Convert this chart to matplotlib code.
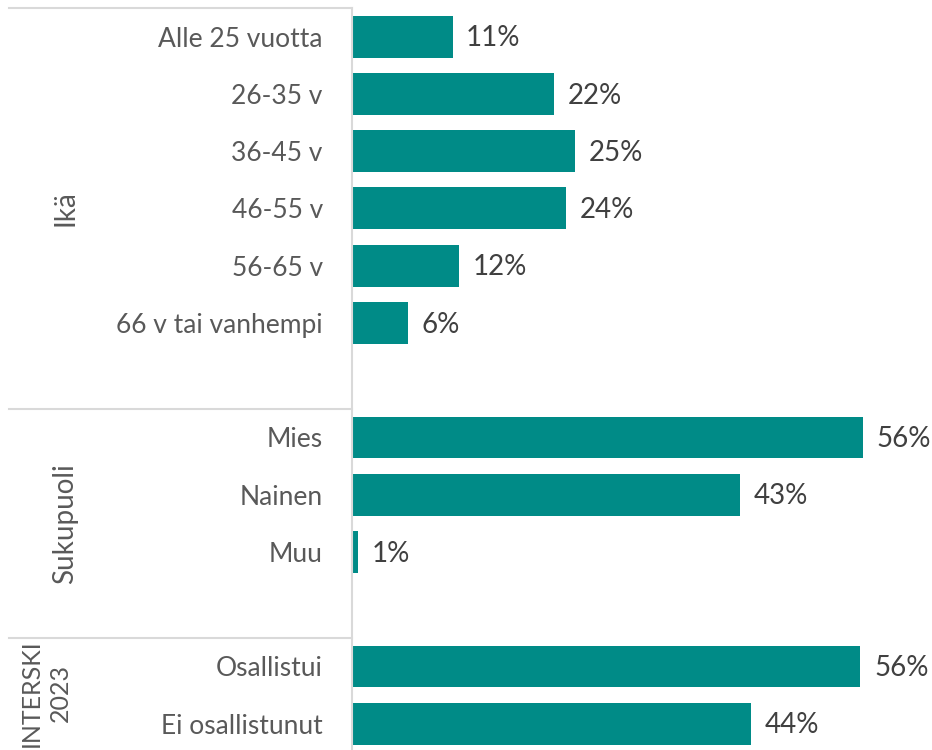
import matplotlib
matplotlib.use("Agg")
import matplotlib.pyplot as plt
from matplotlib.transforms import blended_transform_factory
from matplotlib.lines import Line2D

# ryhmät ja luokat
groups = ["Ikä", "Sukupuoli", "INTERSKI\n2023"]
ika_labels = ["Alle 25 vuotta", "26-35 v", "36-45 v", "46-55 v", "56-65 v", "66 v tai vanhempi"]
ika_values = [11.1, 22.3, 24.6, 23.6, 11.8, 6.2]
sukupuoli_labels = ["Mies", "Nainen", "Muu"]
sukupuoli_values = [56.4, 42.8, 0.7]
interski_labels = ["Osallistui", "Ei osallistunut"]
interski_values = [56.1, 44.0]

plt.rcParams['font.family'] = ['Lato', 'DejaVu Sans']

BAR = "#008B87"
GRID = "#D9D9D9"
TXT = "#595959"
VAL = "#404040"

# rakennetaan rivit, tyhjä rivi ryhmien väliin
blocks = [(ika_labels, ika_values), (sukupuoli_labels, sukupuoli_values), (interski_labels, interski_values)]
pos, labels, values, spans = [], [], [], []
row = 0
for lab, val in blocks:
    start = row
    for l, v in zip(lab, val):
        pos.append(row)
        labels.append(l)
        values.append(v)
        row += 1
    spans.append((start - 0.5, row - 0.5))
    row += 1

W, H = 932, 750
fig = plt.figure(figsize=(W / 100, H / 100), dpi=100)
ax = fig.add_axes([352 / W, 0, 1 - 352 / W, 1 - 8 / H])

ax.barh(pos, values, height=0.73, color=BAR)
for p, v in zip(pos, values):
    ax.text(v + 1.5, p + 0.03, f"{v:.0f}%", va="center", ha="left", fontsize=20, color=VAL)

ax.set_xlim(0, 64)
ax.set_ylim(12.46, -0.5)
ax.set_xticks([])
ax.set_yticks(pos)
ax.set_yticklabels(labels, fontsize=19, color=TXT)
ax.tick_params(axis="y", length=0, pad=21)
for s in ["top", "right", "bottom"]:
    ax.spines[s].set_visible(False)
ax.spines["left"].set_color(GRID)
ax.spines["left"].set_linewidth(1.5)

tr = blended_transform_factory(fig.transFigure, ax.transData)
x0 = 9 / W
x1 = 352 / W
for i, (lo, hi) in enumerate(spans):
    ln = Line2D([x0, x1], [lo, lo], transform=tr, color=GRID, lw=1.5, clip_on=False)
    fig.add_artist(ln)
    # ryhmän nimi keskelle omien rivien ja mahdollisen tyhjän rivin väliin
    end = spans[i + 1][0] if i + 1 < len(spans) else hi
    mid = (lo + end) / 2
    if "\n" in groups[i]:
        fig.text(46 / W, mid - 0.03, groups[i], transform=tr, rotation=90, ha="center",
                 va="center", fontsize=18, color=TXT, linespacing=1.35)
    else:
        fig.text(65 / W, mid, groups[i], transform=tr, rotation=90, ha="center",
                 va="center", fontsize=20, color=TXT)

fig.savefig("out.png", dpi=100)
